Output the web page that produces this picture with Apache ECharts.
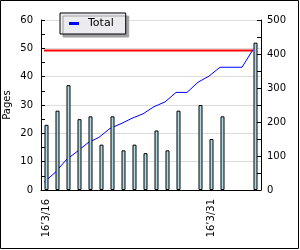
<!DOCTYPE html>
<html>
<head>
<meta charset="utf-8">
<script src="https://cdn.jsdelivr.net/npm/echarts@6/dist/echarts.min.js"></script>
<style>
html,body{margin:0;padding:0;background:#fff;}
#c{width:300px;height:250px;}
</style>
</head>
<body>
<div id="c"></div>
<script>
var categories = ["16’3/16","16’3/17","16’3/18","16’3/19","16’3/20","16’3/21","16’3/22","16’3/23","16’3/24","16’3/25","16’3/26","16’3/27","16’3/28","16’3/29","16’3/30","16’3/31","16’4/1","16’4/2","16’4/3","16’4/4"];
var pages = [23,28,37,25,26,16,26,14,16,13,21,14,28,null,30,18,26,null,null,52];
var total = [23,51,88,113,139,155,181,195,211,224,245,259,287,287,317,335,361,361,361,413];
var target = [410,410,410,410,410,410,410,410,410,410,410,410,410,410,410,410,410,410,410,410];
var leftTicks = [0,10,20,30,40,50,60];
var rightTicks = [0,100,200,300,400,500];

var FONT = 'DejaVu Sans';
var chart = echarts.init(document.getElementById('c'), null, {renderer:'canvas'});
chart.setOption({
  animation:false,
  backgroundColor:'#ffffff',
  textStyle:{fontFamily:FONT},
  graphic:[{type:'rect', shape:{x:0.5,y:0.5,width:298,height:248}, style:{fill:null, stroke:'#000', lineWidth:1}, z:100}],
  legend:{
    data:['Total'], left:60, top:13, orient:'horizontal',
    padding:[5,12,5,9], itemWidth:10, itemHeight:3, icon:'rect', itemGap:8,
    backgroundColor:'#ecebf0', borderColor:'#000', borderWidth:1,
    shadowColor:'#a0a0a0', shadowOffsetX:3, shadowOffsetY:3, shadowBlur:0,
    textStyle:{fontFamily:FONT, fontSize:11, color:'#000', padding:[0,0,0,4]}
  },
  grid:[
    {left:41, right:39, top:20, bottom:60, containLabel:false, outerBoundsMode:'none'},
    {left:38.5, right:41.5, top:20, bottom:60, containLabel:false, outerBoundsMode:'none'}
  ],
  xAxis:[
    {type:'category', gridIndex:0, data:categories, boundaryGap:true,
     axisLine:{lineStyle:{color:'#000', width:1}},
     axisTick:{inside:true, length:4, interval:0, lineStyle:{color:'#000'}},
     axisLabel:{interval:14, rotate:90, margin:9, fontSize:10, color:'#000', fontFamily:FONT},
     splitLine:{show:false}},
    {type:'category', gridIndex:1, data:categories, boundaryGap:true, show:false}
  ],
  yAxis:[
    {type:'value', gridIndex:0, min:0, max:60, interval:10, position:'left',
     name:'Pages', nameLocation:'middle', nameGap:29, nameRotate:90, nameMoveOverlap:false,
     nameTextStyle:{fontSize:10, color:'#000', fontFamily:FONT},
     axisLine:{show:true, lineStyle:{color:'#000'}},
     axisTick:{show:true, inside:true, length:4, lineStyle:{color:'#000'}},
     minorTick:{show:true, splitNumber:2, length:4, lineStyle:{color:'#000'}},
     axisLabel:{margin:8, fontSize:10, color:'#000', fontFamily:FONT},
     splitLine:{show:true, lineStyle:{color:'#dcdcdc', width:1}}},
    {type:'value', gridIndex:0, min:0, max:500, interval:100, position:'right',
     axisLine:{show:true, lineStyle:{color:'#000'}},
     axisTick:{show:true, inside:true, length:4, lineStyle:{color:'#000'}},
     minorTick:{show:true, splitNumber:2, length:4, lineStyle:{color:'#000'}},
     axisLabel:{margin:6, fontSize:10, color:'#000', fontFamily:FONT},
     splitLine:{show:false}},
    {type:'value', gridIndex:1, min:0, max:500, interval:100, show:false, splitLine:{show:false}}
  ],
  series:[
    {name:'Target', type:'line', xAxisIndex:1, yAxisIndex:2, data:target, symbol:'none',
     lineStyle:{color:'#ff0000', width:2}, z:1, silent:true},
    {name:'Total', type:'line', xAxisIndex:1, yAxisIndex:2, data:total, symbol:'none',
     color:'#0000ff', lineStyle:{color:'#0000ff', width:1}, z:1},
    {name:'Pages', type:'bar', xAxisIndex:0, yAxisIndex:0, data:pages, barWidth:4,
     itemStyle:{color:'#add8e6', borderColor:'#000', borderWidth:1}, z:3}
  ]
});
</script>
</body>
</html>
